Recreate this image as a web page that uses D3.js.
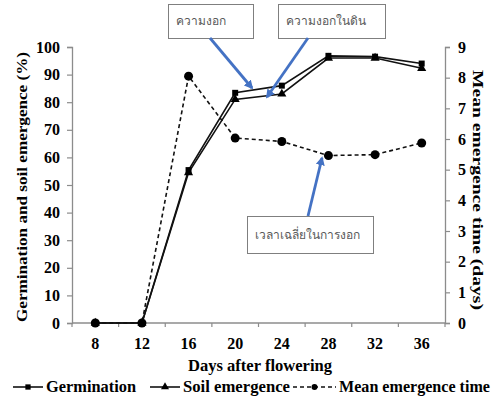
<!DOCTYPE html>
<html>
<head>
<meta charset="utf-8">
<script src="https://cdn.jsdelivr.net/npm/d3@7"></script>
<style>
  body { margin: 0; background: #fff; }
  text { font-family: "Liberation Serif", "Times New Roman", serif; }
</style>
</head>
<body>
<div id="chart"></div>
<script>
// data
const days = [8, 12, 16, 20, 24, 28, 32, 36];
const germination = [0, 0, 55.4, 83.4, 86, 96.8, 96.5, 94];
const soilEmergence = [0, 0, 54.5, 81, 83, 96, 96, 92.3];
const meanEmergenceTime = [0, 0, 8.05, 6.03, 5.92, 5.46, 5.49, 5.87];
const leftTicks = [0, 10, 20, 30, 40, 50, 60, 70, 80, 90, 100];
const rightTicks = [0, 1, 2, 3, 4, 5, 6, 7, 8, 9];

const notes = [
  { text: "ความงอก", box: [168, 4, 85, 34], from: [210, 38], to: [252, 88] },
  { text: "ความงอกในดิน", box: [278, 4, 107, 34], from: [308, 38], to: [267, 97] },
  { text: "เวลาเฉลี่ยในการงอก", box: [247, 216, 126, 37], from: [308, 216], to: [322, 158] }
];

const W = 494, H = 398;
const margin = { top: 47, right: 49, bottom: 75, left: 72 },
  width = W - margin.left - margin.right,
  height = H - margin.top - margin.bottom;

const svg = d3.select("#chart").append("svg")
  .attr("width", W).attr("height", H);

const defs = svg.append("defs");
defs.append("marker")
  .attr("id", "arrow").attr("viewBox", "0 0 10 10")
  .attr("refX", 8).attr("refY", 5)
  .attr("markerWidth", 3.2).attr("markerHeight", 3.2)
  .attr("orient", "auto")
  .append("path").attr("d", "M0,0L10,5L0,10z").attr("fill", "#4472c4");

const g = svg.append("g").attr("transform", `translate(${margin.left},${margin.top})`);

const x = d3.scaleBand().domain(days).range([0, width]);
const xc = d => x(d) + x.bandwidth() / 2;
const yL = d3.scaleLinear().domain([0, 100]).range([height, 0]);
const yR = d3.scaleLinear().domain([0, 9]).range([height, 0]);

const axisColor = "#8c8c8c";

// X axis: ticks at category borders, labels at centres
const xAxis = g.append("g").attr("transform", `translate(0,${height})`);
xAxis.append("line").attr("x1", 0).attr("x2", width).attr("stroke", axisColor).attr("stroke-width", 1.3);
xAxis.selectAll(".tk").data(days.concat([null]))
  .join("line")
  .attr("x1", (d, i) => i * x.bandwidth()).attr("x2", (d, i) => i * x.bandwidth())
  .attr("y1", 0).attr("y2", 4)
  .attr("stroke", axisColor).attr("stroke-width", 1.2);
xAxis.selectAll(".lb").data(days)
  .join("text")
  .attr("x", xc).attr("y", 26)
  .attr("text-anchor", "middle")
  .attr("font-size", 16).attr("font-weight", "bold")
  .text(d => d);

// left axis
const yAxisL = g.append("g")
  .call(d3.axisLeft(yL).tickValues(leftTicks).tickSize(5).tickPadding(7));
yAxisL.select(".domain").attr("stroke", axisColor).attr("stroke-width", 1.3);
yAxisL.selectAll(".tick line").attr("stroke", axisColor).attr("stroke-width", 1.2);
yAxisL.selectAll(".tick text").attr("font-size", 16).attr("font-weight", "bold")
  .attr("font-family", "Liberation Serif").attr("fill", "#000");

// right axis
const yAxisR = g.append("g").attr("transform", `translate(${width},0)`)
  .call(d3.axisRight(yR).tickValues(rightTicks).tickSize(5).tickPadding(8));
yAxisR.select(".domain").attr("stroke", axisColor).attr("stroke-width", 1.3);
yAxisR.selectAll(".tick line").attr("stroke", axisColor).attr("stroke-width", 1.2);
yAxisR.selectAll(".tick text").attr("font-size", 16).attr("font-weight", "bold")
  .attr("font-family", "Liberation Serif").attr("fill", "#000");

// axis titles
svg.append("text")
  .attr("transform", `translate(22,${187}) rotate(-90)`)
  .attr("text-anchor", "middle").attr("dy", "0.35em")
  .attr("font-size", 15.5).attr("font-weight", "bold")
  .attr("textLength", 270).attr("lengthAdjust", "spacingAndGlyphs")
  .text("Germination and soil emergence (%)");
svg.append("text")
  .attr("transform", `translate(478,${190}) rotate(90)`)
  .attr("text-anchor", "middle").attr("dy", "0.35em")
  .attr("font-size", 14.5).attr("font-weight", "bold")
  .attr("textLength", 240).attr("lengthAdjust", "spacingAndGlyphs")
  .text("Mean emergence time (days)");
svg.append("text")
  .attr("x", 260).attr("y", 371)
  .attr("text-anchor", "middle").attr("font-size", 16).attr("font-weight", "bold")
  .attr("textLength", 144).attr("lengthAdjust", "spacingAndGlyphs")
  .text("Days after flowering");

// series
const lineL = d3.line().x((d, i) => xc(days[i])).y(d => yL(d));
const lineR = d3.line().x((d, i) => xc(days[i])).y(d => yR(d));

g.append("path").datum(meanEmergenceTime).attr("d", lineR)
  .attr("fill", "none").attr("stroke", "#111").attr("stroke-width", 1.6)
  .attr("stroke-dasharray", "4,3");
g.append("path").datum(soilEmergence).attr("d", lineL)
  .attr("fill", "none").attr("stroke", "#111").attr("stroke-width", 1.6);
g.append("path").datum(germination).attr("d", lineL)
  .attr("fill", "none").attr("stroke", "#111").attr("stroke-width", 1.6);

g.selectAll(".mc").data(meanEmergenceTime).join("circle")
  .attr("cx", (d, i) => xc(days[i])).attr("cy", d => yR(d)).attr("r", 4.5).attr("fill", "#000");
g.selectAll(".tr").data(soilEmergence).join("path")
  .attr("transform", (d, i) => `translate(${xc(days[i])},${yL(d)})`)
  .attr("d", d3.symbol(d3.symbolTriangle, 36)).attr("fill", "#000");
g.selectAll(".sq").data(germination).join("path")
  .attr("transform", (d, i) => `translate(${xc(days[i])},${yL(d)})`)
  .attr("d", d3.symbol(d3.symbolSquare, 36)).attr("fill", "#000");

// annotations
const ann = svg.append("g");
notes.forEach(n => {
  ann.append("rect")
    .attr("x", n.box[0] + 0.5).attr("y", n.box[1] + 0.5)
    .attr("width", n.box[2]).attr("height", n.box[3])
    .attr("fill", "#fff").attr("stroke", "#7f7f7f").attr("stroke-width", 1);
  ann.append("text")
    .attr("x", n.box[0] + 8).attr("y", n.box[1] + n.box[3] / 2 + 4)
    .attr("font-family", "Tahoma, 'Noto Sans Thai', 'DejaVu Sans', sans-serif")
    .attr("font-size", 12).attr("fill", "#595959")
    .text(n.text);
  ann.append("line")
    .attr("x1", n.from[0]).attr("y1", n.from[1])
    .attr("x2", n.to[0]).attr("y2", n.to[1])
    .attr("stroke", "#4472c4").attr("stroke-width", 2.8)
    .attr("marker-end", "url(#arrow)");
});

// legend
const legend = svg.append("g").attr("transform", "translate(0,392)");
const legendItems = [
  { label: "Germination", x: 13, w: 30, tw: 90, sym: d3.symbolSquare, dash: null },
  { label: "Soil emergence", x: 150, w: 30, tw: 107, sym: d3.symbolTriangle, dash: null },
  { label: "Mean emergence time", x: 293, w: 43, tw: 151, sym: d3.symbolCircle, dash: "4,3" }
];
legendItems.forEach(it => {
  legend.append("line").attr("x1", it.x).attr("x2", it.x + it.w).attr("y1", -5).attr("y2", -5)
    .attr("stroke", "#111").attr("stroke-width", 1.6)
    .attr("stroke-dasharray", it.dash);
  legend.append("path").attr("transform", `translate(${it.x + it.w / 2},-5)`)
    .attr("d", d3.symbol(it.sym, 28)).attr("fill", "#000");
  legend.append("text").attr("x", it.x + it.w + 3).attr("y", 0)
    .attr("font-size", 16).attr("font-weight", "bold")
    .attr("textLength", it.tw).attr("lengthAdjust", "spacingAndGlyphs")
    .text(it.label);
});
</script>
</body>
</html>
